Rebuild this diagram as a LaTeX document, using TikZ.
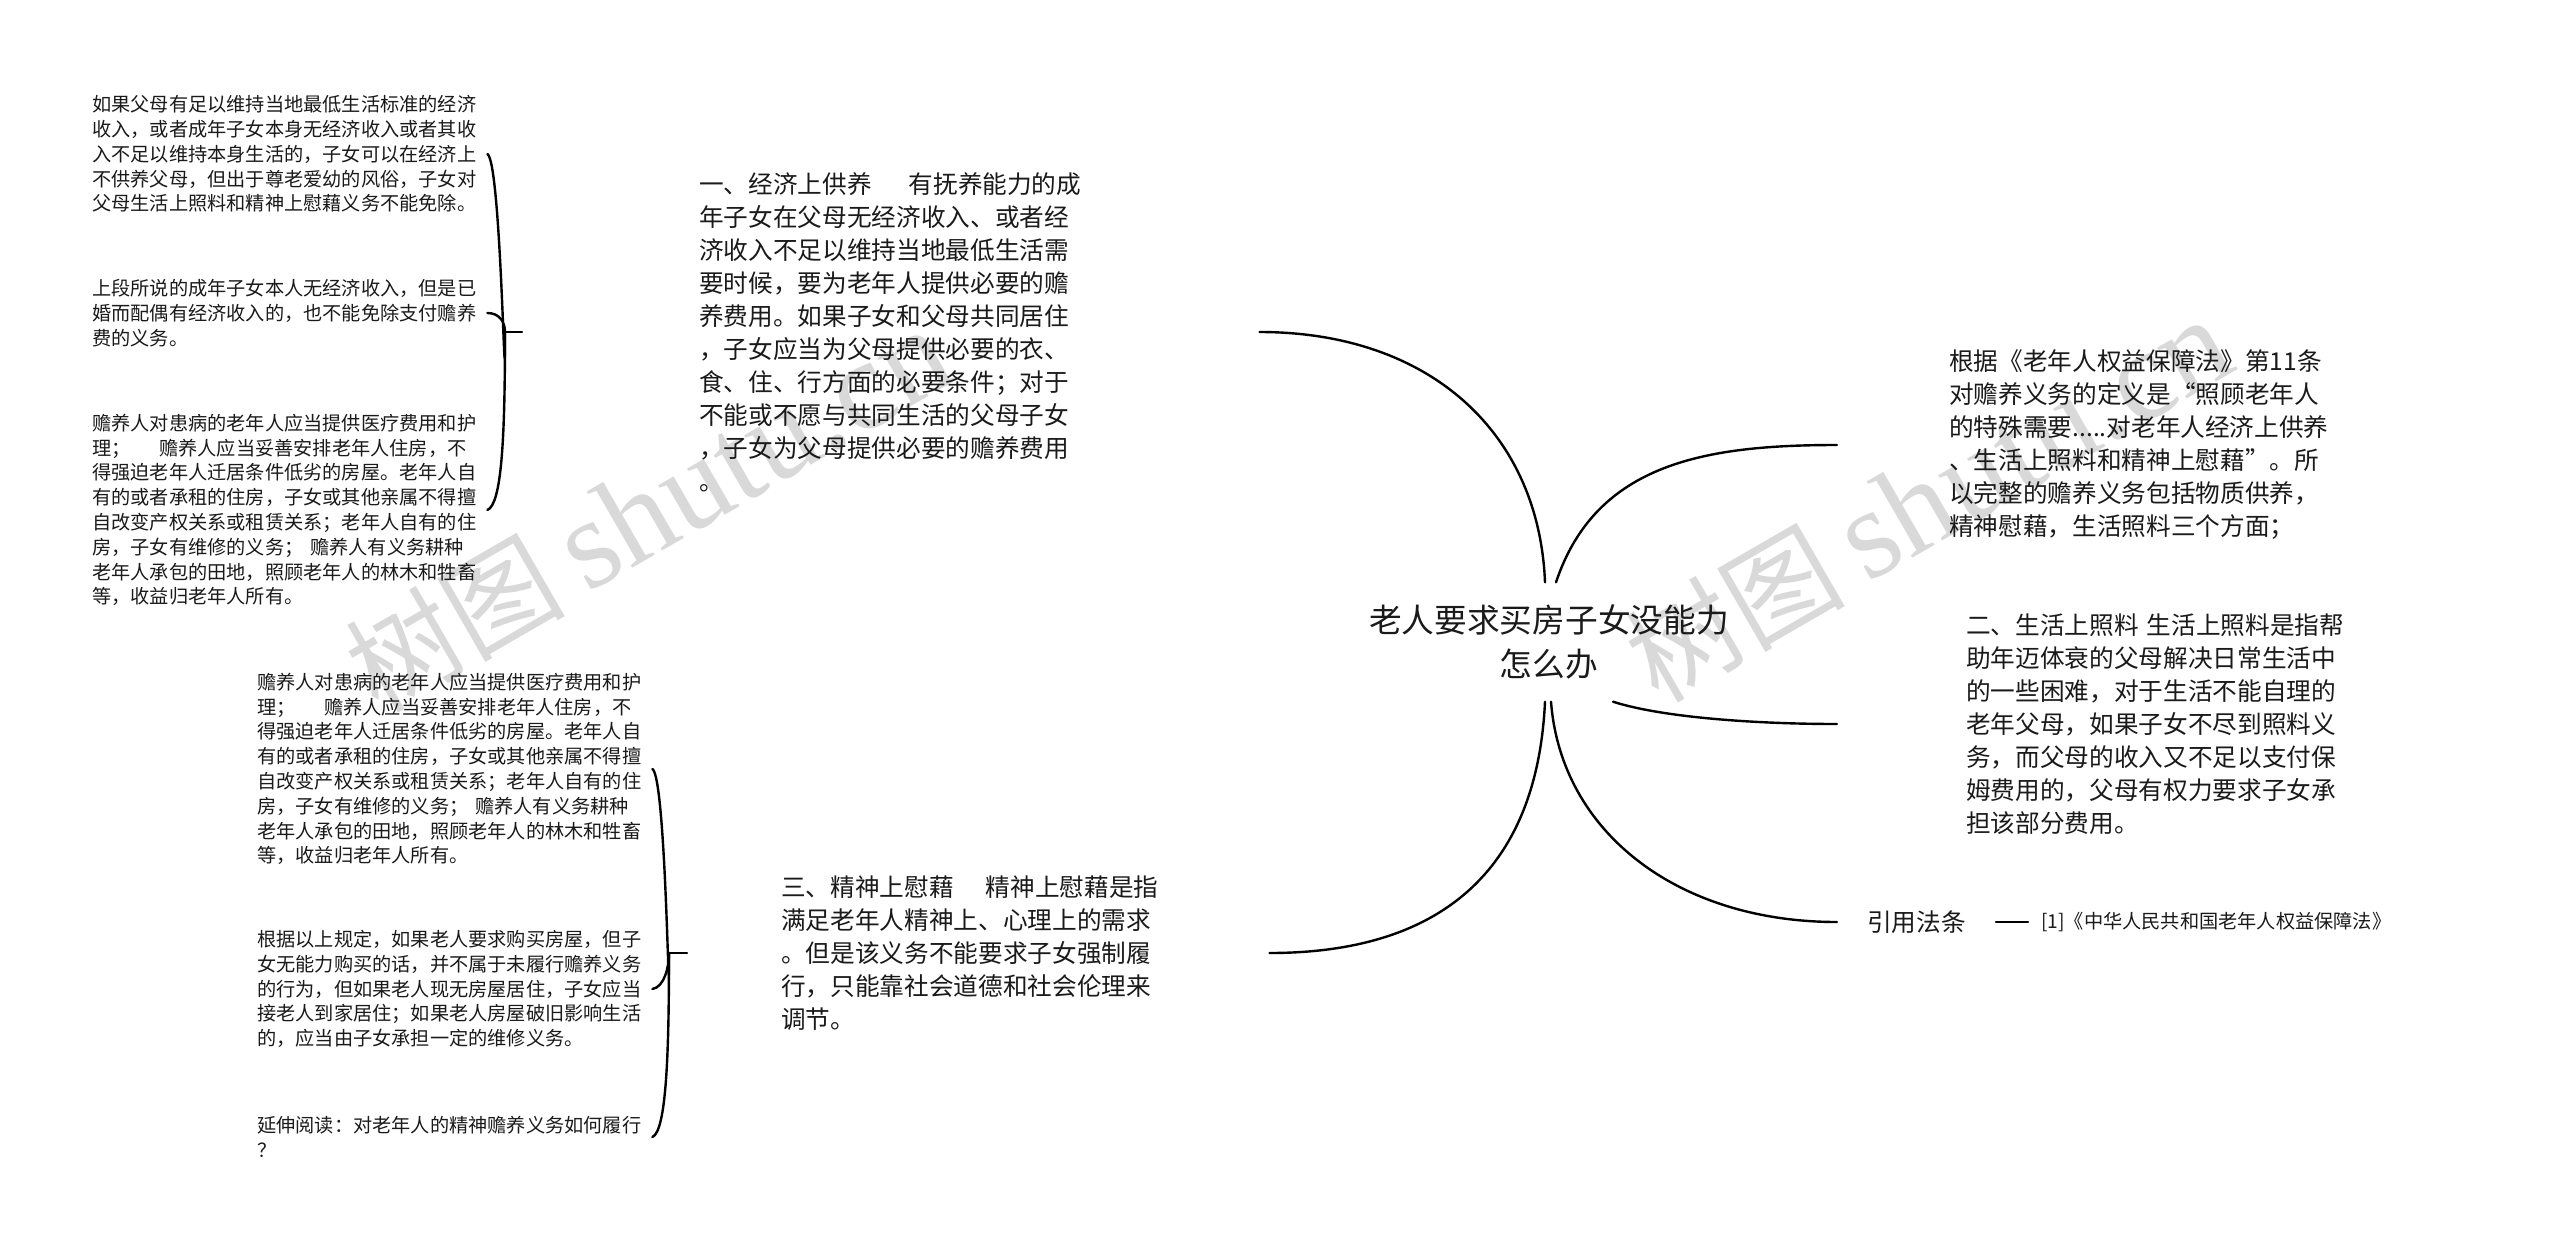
\documentclass[tikz,border=0pt]{standalone}
\usepackage{fontspec}
\setmainfont{Noto Sans CJK SC}
\newfontfamily\wmlatin{Liberation Serif}
\definecolor{ink}{HTML}{1A1A1A}
\definecolor{wm}{HTML}{D9D9D9}
\tikzset{
  link/.style={line width=2.4pt,black,line cap=round},
  small/.style={anchor=west,inner sep=0pt,align=left,text=ink,font=\fontsize{19.2pt}{24.8pt}\selectfont},
  big/.style={anchor=west,inner sep=0pt,align=left,text=ink,font=\fontsize{24.65pt}{33pt}\selectfont},
  title/.style={anchor=center,inner sep=0pt,align=center,text=ink,minimum height=119pt,font=\fontsize{32.7pt}{44pt}\selectfont},
  cite/.style={anchor=west,inner sep=0pt,text=ink,font=\fontsize{19.2pt}{24pt}\selectfont},
  wmark/.style={anchor=base west,inner sep=0pt,text=wm,rotate=30,font=\fontsize{110pt}{112pt}\selectfont}
}
\newcommand{\wmtext}{树图\hspace{.2em}{\wmlatin\fontsize{128pt}{130pt}\selectfont shutu.cn}}
\begin{document}
\begin{tikzpicture}[x=1pt,y=-1pt]
\path[use as bounding box,fill=white] (0,0) rectangle (2560,1253);
\node[wmark] (wmA) at (378,715) {\wmtext};
\node[wmark] (wmB) at (1658,705) {\wmtext};
\node[title] (root) at (1549,642) {老人要求买房子女没能力\\怎么办};
\node[big] (n1) at (699,332) {一、经济上供养\hspace{1.5em}有抚养能力的成\\年子女在父母无经济收入、或者经\\济收入不足以维持当地最低生活需\\要时候，要为老年人提供必要的赡\\养费用。如果子女和父母共同居住\\，子女应当为父母提供必要的衣、\\食、住、行方面的必要条件；对于\\不能或不愿与共同生活的父母子女\\，子女为父母提供必要的赡养费用\\。};
\node[big] (n3) at (781,953) {三、精神上慰藉\hspace{1.3em}精神上慰藉是指\\满足老年人精神上、心理上的需求\\。但是该义务不能要求子女强制履\\行，只能靠社会道德和社会伦理来\\调节。};
\node[big] (r1) at (1949,445) {根据《老年人权益保障法》第11条\\对赡养义务的定义是“照顾老年人\\的特殊需要.....对老年人经济上供养\\、生活上照料和精神上慰藉”。所\\以完整的赡养义务包括物质供养，\\精神慰藉，生活照料三个方面；};
\node[big] (r2) at (1966,724) {二、生活上照料\hspace{.33em}生活上照料是指帮\\助年迈体衰的父母解决日常生活中\\的一些困难，对于生活不能自理的\\老年父母，如果子女不尽到照料义\\务，而父母的收入又不足以支付保\\姆费用的，父母有权力要求子女承\\担该部分费用。};
\node[big] (r3) at (1867,922) {引用法条};
\node[cite] (c1) at (2041,922) {[1]《中华人民共和国老年人权益保障法》};
\node[small] (a1) at (92,154) {如果父母有足以维持当地最低生活标准的经济\\收入，或者成年子女本身无经济收入或者其收\\入不足以维持本身生活的，子女可以在经济上\\不供养父母，但出于尊老爱幼的风俗，子女对\\父母生活上照料和精神上慰藉义务不能免除。};
\node[small] (a2) at (92,313) {上段所说的成年子女本人无经济收入，但是已\\婚而配偶有经济收入的，也不能免除支付赡养\\费的义务。};
\node[small] (a3) at (92,510) {赡养人对患病的老年人应当提供医疗费用和护\\理；\hspace{1.5em}赡养人应当妥善安排老年人住房，不\\得强迫老年人迁居条件低劣的房屋。老年人自\\有的或者承租的住房，子女或其他亲属不得擅\\自改变产权关系或租赁关系；老年人自有的住\\房，子女有维修的义务；\hspace{.36em}赡养人有义务耕种\\老年人承包的田地，照顾老年人的林木和牲畜\\等，收益归老年人所有。};
\node[small] (b1) at (257,769) {赡养人对患病的老年人应当提供医疗费用和护\\理；\hspace{1.5em}赡养人应当妥善安排老年人住房，不\\得强迫老年人迁居条件低劣的房屋。老年人自\\有的或者承租的住房，子女或其他亲属不得擅\\自改变产权关系或租赁关系；老年人自有的住\\房，子女有维修的义务；\hspace{.36em}赡养人有义务耕种\\老年人承包的田地，照顾老年人的林木和牲畜\\等，收益归老年人所有。};
\node[small] (b2) at (257,989) {根据以上规定，如果老人要求购买房屋，但子\\女无能力购买的话，并不属于未履行赡养义务\\的行为，但如果老人现无房屋居住，子女应当\\接老人到家居住；如果老人房屋破旧影响生活\\的，应当由子女承担一定的维修义务。};
\node[small] (b3) at (257,1137) {延伸阅读：对老年人的精神赡养义务如何履行\\？};
\coordinate (ja) at ([xshift=-194pt]n1.west);
\coordinate (jb) at ([xshift=-112pt]n3.west);
% main branches
\draw[link] ([xshift=-4pt]root.north) .. controls +(-6,-150) and +(170,0) .. ([xshift=178pt]n1.east);
\draw[link] ([xshift=7pt]root.north) .. controls +(40,-120) and +(-130,0) .. ([xshift=-112pt]r1.west);
\draw[link] ([xshift=64pt]root.south) .. controls +(50,16) and +(-80,0) .. ([xshift=-129pt]r2.west);
\draw[link] ([xshift=2pt]root.south) .. controls +(10,130) and +(-160,0) .. ([xshift=-30pt]r3.west);
\draw[link] ([xshift=-4pt]root.south) .. controls +(-8,170) and +(170,0) .. ([xshift=111pt]n3.east);
\draw[link] ([xshift=30pt]r3.east) -- ([xshift=-13pt]c1.west);
% braces
\draw[link] ([xshift=11pt]a1.east) .. controls +(14,8) and +(0,110) .. (ja);
\draw[link] ([xshift=11pt]a2.east) .. controls +(12,0) and +(0,-10) .. (ja);
\draw[link] ([xshift=11pt]a3.east) .. controls +(14,-6) and +(0,110) .. (ja);
\draw[link] (ja) -- ([xshift=-177pt]n1.west);
\draw[link] ([xshift=11pt]b1.east) .. controls +(14,8) and +(0,100) .. (jb);
\draw[link] ([xshift=11pt]b2.east) .. controls +(12,-2) and +(0,14) .. (jb);
\draw[link] ([xshift=11pt]b3.east) .. controls +(14,-6) and +(0,100) .. (jb);
\draw[link] (jb) -- ([xshift=-94pt]n3.west);
\end{tikzpicture}
\end{document}
